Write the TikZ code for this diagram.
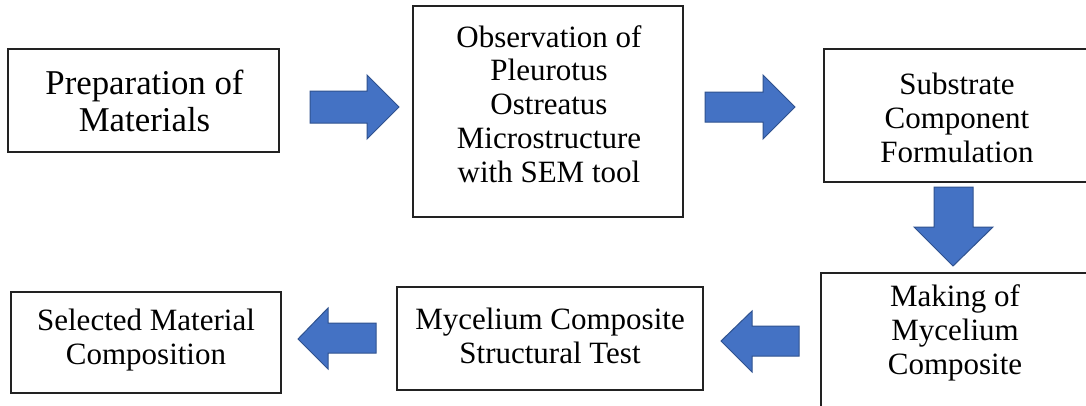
\documentclass[tikz,border=0pt]{standalone}
\usepackage{fontspec}
\setmainfont{Liberation Serif}
\definecolor{arrowfill}{HTML}{4472C4}
\definecolor{arrowline}{HTML}{2F528F}
\definecolor{boxline}{HTML}{222222}
\tikzset{
  stepbox/.style={draw=boxline, line width=1.2pt, rectangle, inner sep=0pt, fill=white},
  steptext/.style={align=center, inner sep=0pt, font=\fontsize{31}{33.8}\selectfont},
  bigtext/.style={align=center, inner sep=0pt, font=\fontsize{34.8}{36.5}\selectfont},
  blockarrow/.style={fill=arrowfill, draw=arrowline, line width=1pt, line join=miter},
}
\begin{document}
\begin{tikzpicture}[x=1pt, y=-1pt]
\useasboundingbox (0,0) rectangle (1086,405);
\clip (0,0) rectangle (1086,405);
\fill[white] (0,0) rectangle (1086,405);

% boxes
\node[stepbox, minimum width=271pt, minimum height=103pt] (b1) at (143.5,100.5) {};
\node[stepbox, minimum width=270pt, minimum height=211pt] (b2) at (548,111.5) {};
\node[stepbox, minimum width=276pt, minimum height=133pt] (b3) at (962,115.5) {};
\node[stepbox, minimum width=279pt, minimum height=147pt] (b4) at (960.5,346.5) {};
\node[stepbox, minimum width=306pt, minimum height=103pt] (b5) at (550,338.5) {};
\node[stepbox, minimum width=270pt, minimum height=101pt] (b6) at (146,342.5) {};

% texts
\node[bigtext] (t1) at (144.5,101) {Preparation of\\Materials};
\node[steptext] (t2) at (549,104) {Observation of\\Pleurotus\\Ostreatus\\Microstructure\\with SEM tool};
\node[steptext] (t3) at (957,118) {Substrate\\Component\\Formulation};
\node[steptext] (t4) at (955,333) {Making of\\Mycelium\\Composite};
\node[steptext] (t5) at (550,336) {Mycelium Composite\\Structural Test};
\node[steptext] (t6) at (146,340) {Selected Material\\Composition};

% block arrows
\draw[blockarrow] (310,91) -- (367,91) -- (367,75) -- (399,107) -- (367,139) -- (367,123) -- (310,123) -- cycle;
\draw[blockarrow] (705,92) -- (763,92) -- (763,75) -- (795,107) -- (763,139) -- (763,122) -- (705,122) -- cycle;
\draw[blockarrow] (934,187) -- (973,187) -- (973,227) -- (993,227) -- (953,266) -- (914,227) -- (934,227) -- cycle;
\draw[blockarrow] (799,326) -- (752,326) -- (752,311) -- (721,341) -- (752,372) -- (752,356) -- (799,356) -- cycle;
\draw[blockarrow] (376,323) -- (328,323) -- (328,308) -- (298,339) -- (328,369) -- (328,353) -- (376,353) -- cycle;
\end{tikzpicture}
\end{document}
